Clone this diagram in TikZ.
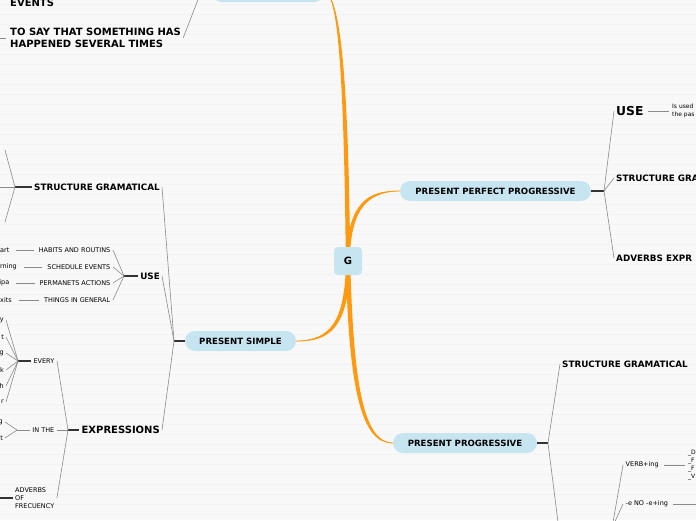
\documentclass[tikz,border=0pt]{standalone}
\usepackage{fontspec}
\setmainfont{DejaVu Sans}
\usetikzlibrary{calc,backgrounds}
\definecolor{pillblue}{HTML}{C6E5F0}
\definecolor{trunk}{HTML}{FF9A10}
\definecolor{twiggray}{HTML}{8A8A8A}
\definecolor{paper}{HTML}{F8F8F8}
\definecolor{stripe}{HTML}{F3F3F3}

\begin{document}
\begin{tikzpicture}[x=1pt,y=-1pt,
  hub/.style={fill=pillblue,rounded corners=4pt,minimum size=28pt,inner sep=0pt,
              font=\fontsize{10}{12}\selectfont\bfseries},
  pill/.style={fill=pillblue,rounded corners=10pt,minimum height=20pt,inner xsep=4pt,
               inner ysep=0pt,font=\fontsize{8.6}{10}\selectfont\bfseries},
  lvl/.style={inner sep=2pt,font=\fontsize{8.8}{10}\selectfont\bfseries},
  lvlbig/.style={inner sep=2pt,align=left,font=\fontsize{10}{12}\selectfont\bfseries},
  leaf/.style={inner sep=2.5pt,font=\fontsize{6.5}{8}\selectfont},
  frag/.style={leaf,inner sep=4pt},
  note/.style={inner sep=1pt,align=left,font=\fontsize{6}{7.8}\selectfont},
  twig/.style={draw=twiggray,line width=0.6pt},
  stub/.style={draw=black!80,line width=1.1pt},
  lead/.style={twig,shorten <=2.5pt,shorten >=2.5pt}]
  \useasboundingbox (0,0) rectangle (696,520);
  \begin{scope}[on background layer]
    \fill[paper] (0,0) rectangle (696,520);
    \foreach \y in {4,14,...,514}
      \draw[stripe,line width=0.8pt] (0,\y) -- (696,\y);
  \end{scope}
  % main topics
  \node[hub] (g) at (348,261) {G};
  \node[pill,minimum width=191pt] (ppp) at (495.5,191) {PRESENT PERFECT PROGRESSIVE};
  \node[pill,minimum width=144pt] (pp) at (465,443) {PRESENT PROGRESSIVE};
  \node[pill,minimum width=111pt] (ps) at (240.5,341) {PRESENT SIMPLE};
  \node[pill,minimum width=112pt] (top) at (268,-8) {};
  % top branch
  \coordinate (jtop) at (201,-8);
  \draw[stub] (top.west) -- (jtop);
  \node[lvlbig,anchor=west] (events) at (8,3) {EVENTS};
  \node[lvlbig,anchor=west] (several) at (8,38)
       {TO SAY THAT SOMETHING HAS\\HAPPENED SEVERAL TIMES};
  \coordinate (severalend) at (-8,38);
  \draw[twig] (jtop) -- (several.east);
  \draw[lead] (several.west) -- (severalend);
  % present simple
  \coordinate (jps) at (174,341);
  \draw[stub] (ps.west) -- (jps);
  \node[lvl,anchor=east] (psstruct) at (162,187) {STRUCTURE GRAMATICAL};
  \node[lvl,anchor=east] (psuse) at (162,276) {USE};
  \node[lvlbig,anchor=east] (psexpr) at (162,430) {EXPRESSIONS};
  \foreach \n in {psstruct,psuse,psexpr}
    \draw[twig] (jps) -- (\n.east);
  % structure
  \coordinate (jstruct) at (15,187);
  \coordinate (sa) at (5,150);
  \coordinate (sb) at (-4,187);
  \coordinate (sc) at (5,222);
  \draw[stub] (jstruct) -- (psstruct.west);
  \foreach \n in {sa,sb,sc}
    \draw[twig] (jstruct) -- (\n);
  % use
  \coordinate (juse) at (124,276);
  \draw[stub] (juse) -- (psuse.west);
  \node[leaf,anchor=east] (habits) at (113,250) {HABITS AND ROUTINS};
  \node[leaf,anchor=east] (sched) at (113,267) {SCHEDULE EVENTS};
  \node[leaf,anchor=east] (perm) at (113,283) {PERMANETS ACTIONS};
  \node[leaf,anchor=east] (things) at (113,300) {THINGS IN GENERAL};
  \node[frag,anchor=east] (fa) at (13.5,250) {art};
  \node[frag,anchor=east] (fb) at (21,267) {rning};
  \node[frag,anchor=east] (fc) at (13.5,283) {ipa};
  \node[frag,anchor=east] (fd) at (16,300) {xits};
  \foreach \n/\m in {habits/fa,sched/fb,perm/fc,things/fd} {
    \draw[twig] (juse) -- (\n.east);
    \draw[lead] (\n.west) -- (\m.east);
  }
  % expressions
  \coordinate (jexpr) at (68,430);
  \draw[stub] (jexpr) -- (psexpr.west);
  \node[leaf,anchor=east] (every) at (57,361) {EVERY};
  \node[leaf,anchor=east] (inthe) at (57,430) {IN THE};
  \node[leaf,anchor=west,align=left] (adv) at (12.5,498) {ADVERBS\\OF\\FRECUENCY};
  \foreach \n in {every,inthe,adv}
    \draw[twig] (jexpr) -- (\n.east);
  \coordinate (jevery) at (18,361);
  \draw[stub] (jevery) -- (every.west);
  \foreach \t/\y [count=\i] in {y/320,t/337,g/353,k/370,h/386,r/402} {
    \node[frag,anchor=east,inner sep=2pt] (ev\i) at (6,\y) {\t};
    \draw[twig] (jevery) -- (ev\i.east);
  }
  \coordinate (jinthe) at (17,430);
  \draw[twig] (jinthe) -- (inthe.west);
  \foreach \t/\y [count=\i] in {g/422,t/438} {
    \node[frag,anchor=east,inner sep=2pt] (in\i) at (5,\y) {\t};
    \draw[twig] (jinthe) -- (in\i.east);
  }
  \coordinate (advend) at (-4,498);
  \draw[stub] (adv.west) -- (advend);
  % present perfect progressive
  \coordinate (jppp) at (604,191);
  \draw[stub] (ppp.east) -- (jppp);
  \node[lvl,anchor=west,font=\fontsize{12.3}{14}\selectfont\bfseries] (pppuse) at (614,111) {USE};
  \node[lvl,anchor=west] (pppstruct) at (614,178) {STRUCTURE GRAMATICAL};
  \node[lvl,anchor=west] (pppadv) at (614,258) {ADVERBS EXPR};
  \foreach \n in {pppuse,pppstruct,pppadv}
    \draw[twig] (jppp) -- (\n.west);
  \node[note,anchor=west] (usednote) at (671,111) {Is used\\the pas};
  \draw[lead] (pppuse.east) -- (usednote.west);
  % present progressive
  \coordinate (jpp) at (548,443);
  \draw[stub] (pp.east) -- (jpp);
  \node[lvl,anchor=west] (ppstruct) at (560,364) {STRUCTURE GRAMATICAL};
  \coordinate (ppnext) at (559,530);
  \draw[twig] (jpp) -- (ppstruct.west);
  \draw[twig] (jpp) -- (ppnext);
  \coordinate (jnext) at (612,528);
  \node[leaf,anchor=west] (verbing) at (623,465) {VERB+ing};
  \node[leaf,anchor=west] (noe) at (623,504) {-e NO -e+ing};
  \draw[twig] (jnext) -- (verbing.west);
  \draw[twig] (jnext) -- (noe.west);
  \node[note,anchor=west] (verblist) at (687,465) {\_D\\\_F\\\_F\\\_V};
  \draw[lead] (verbing.east) -- (verblist.west);
  \coordinate (noeend) at (704,504);
  \draw[lead] (noe.east) -- (noeend);
  % orange trunks
  \begin{scope}[on background layer]
    \fill[trunk] ($(g.center)+(-2.2,0)$) .. controls (343.8,60) and (337,-7) .. (top.east)
         .. controls (339,-5) and (348.2,60) .. ($(g.center)+(2.2,0)$) -- cycle;
    \fill[trunk] ($(g.center)+(-1.6,0)$) .. controls (347,203) and (368,189.6) .. (ppp.west)
         .. controls (368,192.4) and (351,207) .. ($(g.center)+(1.6,0)$) -- cycle;
    \fill[trunk] ($(g.center)+(-2,0)$) .. controls (345,323) and (330,339.6) .. (ps.east)
         .. controls (330,342.4) and (349.5,327) .. ($(g.center)+(2,0)$) -- cycle;
    \fill[trunk] ($(g.center)+(-2.2,0)$) .. controls (348.6,387) and (361,444.6) .. (pp.west)
         .. controls (363,441.4) and (353.4,383) .. ($(g.center)+(2.2,0)$) -- cycle;
    \draw[trunk,line width=0.8pt] (g.center) .. controls (346,60) and (338,-6) .. (top.east);
    \draw[trunk,line width=0.8pt] (g.center) .. controls (349,205) and (368,191) .. (ppp.west);
    \draw[trunk,line width=0.8pt] (g.center) .. controls (347,325) and (330,341) .. (ps.east);
    \draw[trunk,line width=0.8pt] (g.center) .. controls (351,385) and (362,443) .. (pp.west);
  \end{scope}
\end{tikzpicture}
\end{document}
